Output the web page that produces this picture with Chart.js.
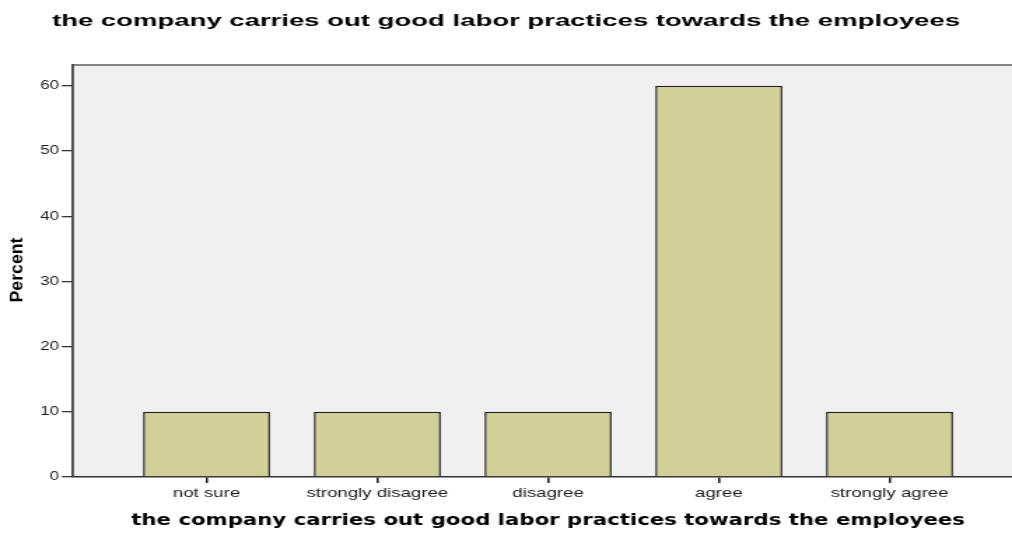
<!DOCTYPE html>
<html>
<head>
<meta charset="utf-8">
<script src="https://cdn.jsdelivr.net/npm/chart.js@4.4.1/dist/chart.umd.min.js"></script>
<style>
  html, body { margin: 0; padding: 0; background: #ffffff; overflow: hidden; }
  #wrap { position: absolute; left: 0; top: 0; width: 723px; height: 535px;
          transform: scaleX(1.39972); transform-origin: 0 0; }
</style>
</head>
<body>
<div id="wrap"><canvas id="c"></canvas></div>
<script>
// ---- data ----
const categories = ["not sure", "strongly disagree", "disagree", "agree", "strongly agree"];
const percentValues = [10, 10, 10, 60, 10];
const yTickValues = [0, 10, 20, 30, 40, 50, 60];
const chartTitle = "the company carries out good labor practices towards the employees";
const xAxisTitle = "the company carries out good labor practices towards the employees";
const yAxisTitle = "Percent";

const S = 1.39972; // horizontal stretch applied by the wrapper

const points = categories.map((c, i) => ({ x: i, y: percentValues[i] }));

const decorPlugin = {
  id: 'decor',
  beforeDraw(chart) {
    const { ctx, chartArea: a } = chart;
    ctx.save();
    ctx.fillStyle = '#f0f0f0';
    ctx.fillRect(a.left, a.top, a.right - a.left, a.bottom - a.top);
    ctx.strokeStyle = '#858585';
    ctx.lineWidth = 2;
    ctx.beginPath();
    ctx.moveTo(a.left, a.top);
    ctx.lineTo(a.right, a.top);
    ctx.stroke();
    ctx.restore();
  },
  afterDraw(chart) {
    const { ctx, width } = chart;
    ctx.save();
    ctx.fillStyle = '#000';
    ctx.textBaseline = 'middle';
    ctx.textAlign = 'center';
    // main title
    ctx.save();
    ctx.translate(width / 2, 21);
    ctx.scale(1.156, 1);
    ctx.font = 'bold 17px "Liberation Sans", Arial, sans-serif';
    ctx.fillText(chartTitle, 0, 0);
    ctx.restore();
    // x axis title
    const xs = chart.scales.x;
    const cx = (xs.getPixelForValue(0) + xs.getPixelForValue(categories.length - 1)) / 2;
    ctx.save();
    ctx.translate(cx, 521);
    ctx.font = 'bold 15.2px "DejaVu Sans", sans-serif';
    ctx.fillText(xAxisTitle, 0, 0);
    ctx.restore();
    // y axis title
    ctx.save();
    ctx.translate(18 / S, 270);
    ctx.scale(1 / S, 1);
    ctx.rotate(-Math.PI / 2);
    ctx.font = 'bold 17.7px "Liberation Sans", Arial, sans-serif';
    ctx.fillText(yAxisTitle, 0, 0);
    ctx.restore();
    ctx.restore();
  }
};

new Chart(document.getElementById('c'), {
  type: 'bar',
  data: {
    datasets: [{
      data: points,
      backgroundColor: '#d3cf98',
      borderColor: '#222222',
      borderWidth: 1.5,
      barPercentage: 0.744,
      categoryPercentage: 1.0
    }]
  },
  options: {
    responsive: true,
    maintainAspectRatio: false,
    animation: false,
    devicePixelRatio: 1,
    layout: { padding: { top: 65, left: 0, right: 0, bottom: 0 } },
    plugins: { legend: { display: false }, tooltip: { enabled: false }, title: { display: false } },
    scales: {
      x: {
        type: 'linear',
        offset: false,
        min: -0.782,
        max: 4.717,
        afterBuildTicks(scale) { scale.ticks = categories.map((c, i) => ({ value: i })); },
        afterFit(scale) { scale.height = 535 - 477; },
        ticks: {
          callback: (v) => categories[v],
          color: '#1a1a1a',
          font: { family: '"Liberation Sans", Arial, sans-serif', size: 13.3 },
          padding: 2,
          maxRotation: 0,
          autoSkip: false
        },
        grid: { offset: false, drawOnChartArea: false, drawTicks: true, tickLength: 6, color: '#222', lineWidth: 1.6 },
        border: { display: true, color: '#333', width: 1.6 }
      },
      y: {
        min: 0,
        max: 63.2,
        afterBuildTicks(scale) { scale.ticks = yTickValues.map(v => ({ value: v })); },
        afterFit(scale) { scale.width = 73 / S; },
        ticks: {
          color: '#1a1a1a',
          font: { family: '"Liberation Sans", Arial, sans-serif', size: 12 },
          padding: 2
        },
        grid: { drawOnChartArea: false, drawTicks: true, tickLength: 8, color: '#333', lineWidth: 1.3 },
        border: { display: true, color: '#444', width: 1.8 }
      }
    }
  },
  plugins: [decorPlugin]
});
</script>
</body>
</html>
